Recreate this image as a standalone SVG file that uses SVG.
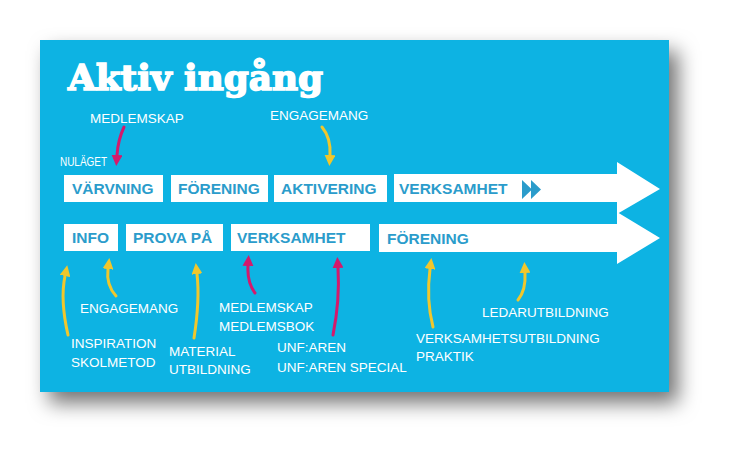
<svg xmlns="http://www.w3.org/2000/svg" width="746" height="470" viewBox="0 0 746 470">
<defs>
<filter id="shadow" x="-10%" y="-10%" width="130%" height="140%">
<feDropShadow dx="9" dy="11" stdDeviation="10" flood-color="#000" flood-opacity="0.55"/>
</filter>
<marker id="hy" viewBox="0 0 10 10" refX="0" refY="5" markerWidth="11" markerHeight="11" markerUnits="userSpaceOnUse" orient="auto">
<path d="M0,0 L10,5 L0,10 Z" fill="#f0c72c"/>
</marker>
<marker id="hm" viewBox="0 0 10 10" refX="0" refY="5" markerWidth="11" markerHeight="11" markerUnits="userSpaceOnUse" orient="auto">
<path d="M0,0 L10,5 L0,10 Z" fill="#d41a6c"/>
</marker>
<style>
.box{fill:#ffffff}
.bt{font-family:"Liberation Sans",Arial,sans-serif;font-weight:bold;font-size:15.5px;fill:#2b9ccb}
.lb{font-family:"Liberation Sans",Arial,sans-serif;font-size:13.5px;fill:#ffffff}
.y{fill:none;stroke:#f0c72c;stroke-width:3;stroke-linecap:round}
.m{fill:none;stroke:#d41a6c;stroke-width:3;stroke-linecap:round}
</style>
</defs>
<rect x="0" y="0" width="746" height="470" fill="#ffffff"/>
<rect x="40" y="40" width="629" height="352" fill="#0ab3e3" filter="url(#shadow)"/>
<text x="68" y="90" font-family="'DejaVu Serif',serif" font-weight="bold" font-size="36" fill="#ffffff" stroke="#ffffff" stroke-width="1.6" textLength="255" lengthAdjust="spacingAndGlyphs">Aktiv ingång</text>

<g id="arrow1">
<path class="box" d="M394,174 L617,174 L617,162 L660,189 L617,214 L617,202 L394,202 Z"/>
<text class="bt" x="399" y="194">VERKSAMHET</text>
<path d="M522,180 L532,189.5 L522,199 Z M531,180 L541,189.5 L531,199 Z" fill="#2b9ccb"/>
</g>
<g id="arrow2">
<path class="box" d="M379,224 L617,224 L617,212 L660,238 L617,264 L617,252 L379,252 Z"/>
<text class="bt" x="387" y="244">FÖRENING</text>
</g>
<g id="varvning"><rect class="box" x="64" y="175" width="99" height="27"/><text class="bt" x="72" y="194">VÄRVNING</text></g>
<g id="forening1"><rect class="box" x="171" y="175" width="97" height="27"/><text class="bt" x="178" y="194">FÖRENING</text></g>
<g id="aktivering"><rect class="box" x="274" y="175" width="113" height="27"/><text class="bt" x="281" y="194">AKTIVERING</text></g>
<g id="info"><rect class="box" x="64" y="224" width="54" height="27"/><text class="bt" x="72" y="243">INFO</text></g>
<g id="provapa"><rect class="box" x="126" y="224" width="97" height="27"/><text class="bt" x="133" y="243">PROVA PÅ</text></g>
<g id="verksamhet2"><rect class="box" x="231" y="224" width="139" height="27"/><text class="bt" x="237" y="243">VERKSAMHET</text></g>

<g id="labels">
<text class="lb" x="90" y="123">MEDLEMSKAP</text>
<text class="lb" x="270" y="120">ENGAGEMANG</text>
<text class="lb" x="60" y="166" font-size="10.5" textLength="47" lengthAdjust="spacingAndGlyphs">NULÄGET</text>
<text class="lb" x="80" y="313">ENGAGEMANG</text>
<text class="lb" x="219" y="312">MEDLEMSKAP</text>
<text class="lb" x="219" y="331">MEDLEMSBOK</text>
<text class="lb" x="71" y="348">INSPIRATION</text>
<text class="lb" x="71" y="367">SKOLMETOD</text>
<text class="lb" x="169" y="356">MATERIAL</text>
<text class="lb" x="169" y="374">UTBILDNING</text>
<text class="lb" x="277" y="352">UNF:AREN</text>
<text class="lb" x="277" y="372">UNF:AREN SPECIAL</text>
<text class="lb" x="482" y="317">LEDARUTBILDNING</text>
<text class="lb" x="416" y="343">VERKSAMHETSUTBILDNING</text>
<text class="lb" x="416" y="361">PRAKTIK</text>
</g>

<g id="connectors">
<path class="m" d="M124,127 Q118,140 117,155" marker-end="url(#hm)"/>
<path class="y" d="M322,127 Q331,138 330,155" marker-end="url(#hy)"/>
<path class="y" d="M68,335 Q60,300 65,276" marker-end="url(#hy)"/>
<path class="y" d="M116,296 Q106,285 108,269" marker-end="url(#hy)"/>
<path class="y" d="M194,338 Q200,300 197,274" marker-end="url(#hy)"/>
<path class="m" d="M255,293 Q247,282 248,266" marker-end="url(#hm)"/>
<path class="m" d="M333,335 Q340,300 338,268" marker-end="url(#hm)"/>
<path class="y" d="M433,327 Q426,300 430,269" marker-end="url(#hy)"/>
<path class="y" d="M518,300 Q526,290 525,273" marker-end="url(#hy)"/>
</g>
</svg>
